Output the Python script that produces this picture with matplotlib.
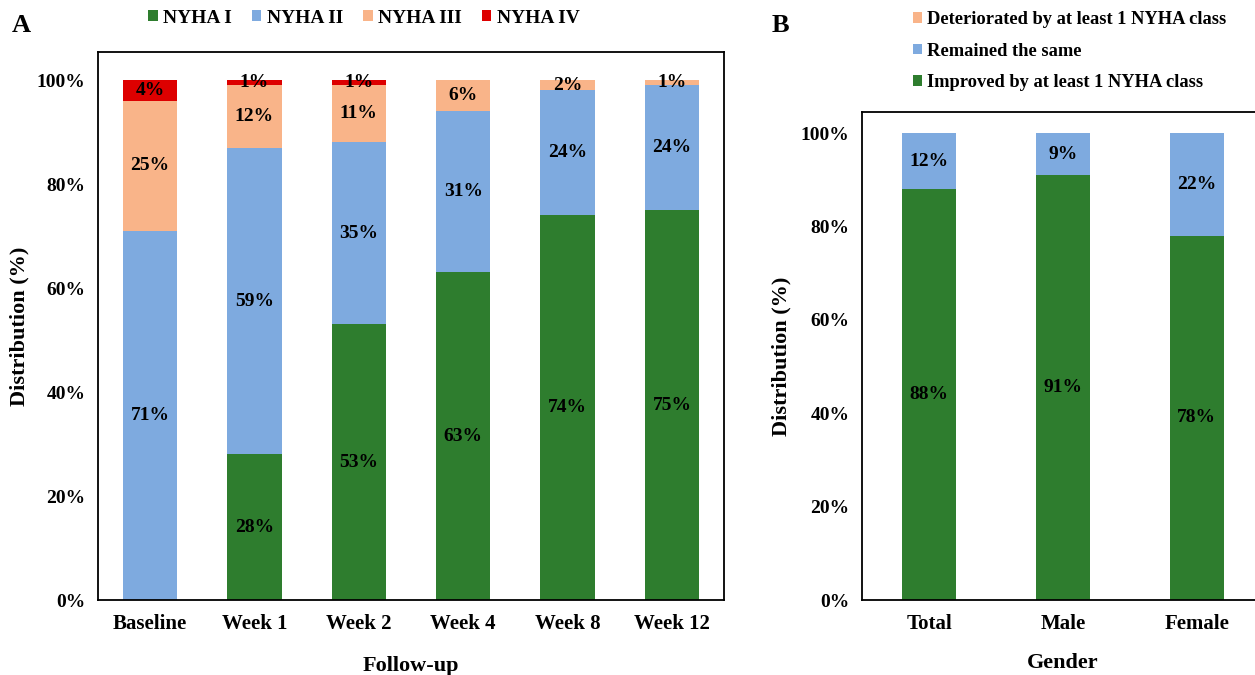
import numpy as np
import matplotlib.pyplot as plt
from matplotlib.ticker import PercentFormatter

plt.rcParams['font.family'] = ['Liberation Serif', 'DejaVu Serif']
plt.rcParams['font.weight'] = 'bold'

# Panel A: NYHA class distribution over follow-up (%)
visits = ['Baseline', 'Week 1', 'Week 2', 'Week 4', 'Week 8', 'Week 12']
nyha_1 = [0, 28, 53, 63, 74, 75]
nyha_2 = [71, 59, 35, 31, 24, 24]
nyha_3 = [25, 12, 11, 6, 2, 1]
nyha_4 = [4, 1, 1, 0, 0, 0]

# Panel B: change in NYHA class by gender (%)
groups = ['Total', 'Male', 'Female']
improved = [88, 91, 78]
same = [12, 9, 22]
deteriorated = [0, 0, 0]

green = '#2E7D2E'
blue = '#7EAADF'
orange = '#F9B489'
red = '#DD0000'

fig = plt.figure(figsize=(12.55, 6.75), dpi=100)
axA = fig.add_axes([0.078, 0.111, 0.499, 0.812])
axB = fig.add_axes([0.687, 0.111, 0.32, 0.723])


def stack(ax, cats, series, colors, names, width):
    x = np.arange(len(cats))
    bottom = np.zeros(len(cats))
    handles = []
    for vals, col, name in zip(series, colors, names):
        vals = np.array(vals, dtype=float)
        h = ax.bar(x, vals / 100, width, bottom=bottom / 100, color=col, label=name)
        handles.append(h)
        for xi, b, v in zip(x, bottom, vals):
            if v > 0:
                ax.text(xi, (b + v / 2) / 100, f'{v:.0f}%', ha='center', va='center',
                        fontsize=14, fontweight='bold', color='black')
        bottom += vals
    ax.set_xticks(x)
    ax.set_xticklabels(cats, fontweight='bold')
    ax.set_xlim(-0.5, len(cats) - 0.5)
    ax.set_yticks(np.arange(0, 1.01, 0.2))
    ax.yaxis.set_major_formatter(PercentFormatter(1.0, decimals=0))
    ax.tick_params(axis='y', length=0, labelsize=14, pad=9)
    ax.tick_params(axis='x', length=0, labelsize=15, pad=10)
    for lab in ax.get_yticklabels():
        lab.set_fontweight('bold')
    for s in ax.spines.values():
        s.set_linewidth(1.3)
    return handles


hA = stack(axA, visits, [nyha_1, nyha_2, nyha_3, nyha_4], [green, blue, orange, red],
           ['NYHA I', 'NYHA II', 'NYHA III', 'NYHA IV'], 0.52)
axA.set_ylim(0, 1.054)
axA.set_ylabel('Distribution (%)', fontsize=16, fontweight='bold')
axA.yaxis.set_label_coords(-0.110, 0.5)
axA.set_xlabel('Follow-up', fontsize=16, fontweight='bold', labelpad=16)
fig.legend(handles=hA, loc='center', bbox_to_anchor=(0.29, 0.973), ncol=4, frameon=False,
           prop={'size': 14, 'weight': 'bold'}, handlelength=0.5, handleheight=0.5,
           handletextpad=0.3, columnspacing=1.0)

hB = stack(axB, groups, [improved, same, deteriorated], [green, blue, orange],
           ['Improved by at least 1 NYHA class', 'Remained the same',
            'Deteriorated by at least 1 NYHA class'], 0.40)
axB.set_ylim(0, 1.045)
axB.set_ylabel('Distribution (%)', fontsize=16, fontweight='bold')
axB.yaxis.set_label_coords(-0.175, 0.5)
axB.set_xlabel('Gender', fontsize=16, fontweight='bold', labelpad=14)
fig.legend(handles=hB[::-1], loc='upper left', bbox_to_anchor=(0.714, 1.008), ncol=1,
           frameon=False, prop={'size': 13.3, 'weight': 'bold'}, handlelength=0.5,
           handleheight=0.5, handletextpad=0.3, labelspacing=0.78)

fig.text(0.009, 0.953, 'A', fontsize=19, fontweight='bold')
fig.text(0.615, 0.953, 'B', fontsize=19, fontweight='bold')

fig.savefig('out.png', dpi=100)
